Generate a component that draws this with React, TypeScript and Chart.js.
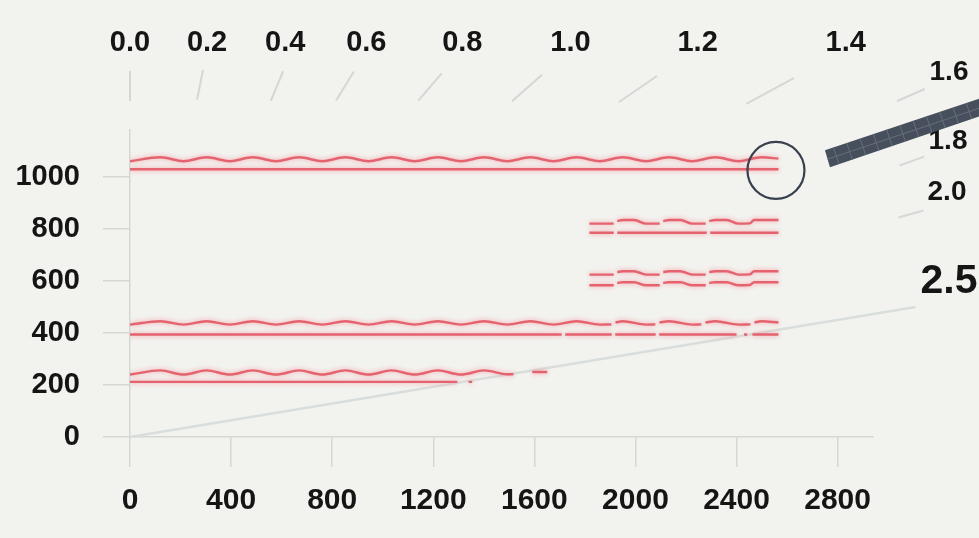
import React, { useEffect, useRef } from "react";
import { Chart, registerables } from "chart.js";

Chart.register(...registerables);

// ---------- data ----------
const xTickValues = [0, 400, 800, 1200, 1600, 2000, 2400, 2800];
const yTickValues = [0, 200, 400, 600, 800, 1000];
const topTickValues = [0, 305, 614, 935, 1315, 1743, 2246, 2832];
const topTickLabels = ["0.0", "0.2", "0.4", "0.6", "0.8", "1.0", "1.2", "1.4"];
const sideLabels = ["1.6", "1.8", "2.0", "2.5"];

type P = [number, number | null];

const wave1000: P[] = [[0,1060],[120,1075],[212,1060],[303,1075],[395,1060],[486,1075],[578,1060],[669,1075],[761,1060],[852,1075],[944,1060],[1035,1075],[1127,1060],[1218,1075],[1310,1060],[1401,1075],[1493,1060],[1584,1075],[1676,1060],[1767,1075],[1859,1060],[1950,1075],[2042,1060],[2133,1075],[2225,1060],[2316,1075],[2408,1060],[2499,1075],[2566,1070]];
const flat1000: P[] = [[0,1029],[2566,1029]];

const wave800: P[] = [[1818,820],[1914,820],[1921,null],[1928,830],[1950,834],[1995,834],[2042,820],[2096,820],[2103,null],[2110,830],[2133,834],[2178,834],[2225,820],[2278,820],[2285,null],[2292,830],[2316,834],[2361,834],[2408,820],[2452,821],[2470,834],[2566,834]];
const flat800: P[] = [[1818,785],[1914,785],[1921,null],[1928,785],[2282,785],[2289,null],[2296,785],[2566,785]];

const wave600a: P[] = [[1818,624],[1914,624],[1921,null],[1928,634],[1950,637],[1995,637],[2042,624],[2096,624],[2103,null],[2110,634],[2133,637],[2178,637],[2225,624],[2278,624],[2285,null],[2292,634],[2316,637],[2361,637],[2408,624],[2452,625],[2470,637],[2566,637]];
const wave600b: P[] = [[1818,583],[1914,583],[1921,null],[1928,592],[1950,595],[1995,595],[2042,583],[2096,583],[2103,null],[2110,592],[2133,595],[2178,595],[2225,583],[2278,583],[2285,null],[2292,592],[2316,595],[2361,595],[2408,583],[2452,584],[2470,595],[2566,595]];

const wave400: P[] = [[0,432],[120,445],[212,432],[303,445],[395,432],[486,445],[578,432],[669,445],[761,432],[852,445],[944,432],[1035,445],[1127,432],[1218,445],[1310,432],[1401,445],[1493,432],[1584,445],[1676,432],[1767,445],[1859,432],[1905,433],[1913,null],[1921,440],[1950,445],[2042,432],[2079,433],[2087,null],[2095,440],[2133,445],[2225,432],[2261,433],[2269,null],[2277,440],[2316,445],[2408,432],[2455,433],[2463,null],[2471,440],[2499,445],[2566,440]];
const flat400: P[] = [[0,394],[1708,394],[1715,null],[1722,394],[1906,394],[1913,null],[1920,394],[2080,394],[2087,null],[2094,394],[2400,394],[2410,null],[2430,394],[2442,394],[2452,null],[2463,394],[2566,394]];

const wave200: P[] = [[0,240],[120,256],[212,240],[303,256],[395,240],[486,256],[578,240],[669,256],[761,240],[852,256],[944,240],[1035,256],[1127,240],[1218,256],[1310,240],[1401,256],[1493,241],[1517,241],[1555,null],[1592,250],[1651,250]];
const flat200: P[] = [[0,212],[1295,212],[1320,null],[1340,212],[1354,212]];

const diagonal: P[] = [[0,0],[3109,500]];
const highlightPoint = { x: 2556, y: 1025 };

// ---------- layout / style ----------
const W = 979;
const H = 538;
const FONT = "'Liberation Sans', Arial, Helvetica, sans-serif";
const TEXT = "#151515";
const AXIS = "#d4d7d4";
const RED = "#e4636f";

const sideLabelPos = [
  { x: 949, y: 72, size: 28 },
  { x: 948, y: 141, size: 28 },
  { x: 947, y: 192, size: 28 },
  { x: 949, y: 282, size: 41 },
];
const rayMarkPos = [
  { x: 130, y: 86, len: 30 },
  { x: 200, y: 85, len: 30 },
  { x: 277, y: 86, len: 32 },
  { x: 345, y: 86, len: 34 },
  { x: 430, y: 87, len: 36 },
  { x: 527, y: 88, len: 40 },
  { x: 638, y: 89, len: 46 },
  { x: 770, y: 91, len: 54 },
  { x: 911, y: 95, len: 30 },
  { x: 912, y: 161, len: 26 },
  { x: 911, y: 214, len: 26 },
];

const toPoints = (arr: P[]) => arr.map(([x, y]) => ({ x, y }));

const redLine = (pts: P[]) => ({
  data: toPoints(pts),
  borderColor: RED,
  borderWidth: 2.4,
  pointRadius: 0,
  tension: 0.4,
  cubicInterpolationMode: "monotone" as const,
  spanGaps: false,
  fill: false,
  glow: true,
});

const bgPlugin = {
  id: "bg",
  beforeDraw(chart: any) {
    const { ctx } = chart;
    ctx.save();
    ctx.fillStyle = "#f2f3ef";
    ctx.fillRect(0, 0, chart.width, chart.height);
    ctx.restore();
  },
};

const glowPlugin = {
  id: "glow",
  beforeDatasetDraw(chart: any, args: any) {
    const ds = chart.data.datasets[args.index];
    if (ds.glow) {
      chart.ctx.save();
      chart.ctx.shadowColor = "rgba(245,150,160,0.95)";
      chart.ctx.shadowBlur = 5;
    }
  },
  afterDatasetDraw(chart: any, args: any) {
    const ds = chart.data.datasets[args.index];
    if (ds.glow) chart.ctx.restore();
  },
};

const decorPlugin = {
  id: "decor",
  afterDraw(chart: any) {
    const { ctx } = chart;
    const xs = chart.scales.x;
    const ys = chart.scales.y;
    const ox = xs.getPixelForValue(0);
    const oy = ys.getPixelForValue(0);
    ctx.save();

    // ray tick marks
    ctx.strokeStyle = "rgba(175,181,181,0.45)";
    ctx.lineWidth = 2;
    rayMarkPos.forEach((m) => {
      const dx = m.x - ox;
      const dy = m.y - oy;
      const d = Math.hypot(dx, dy);
      const ux = dx / d;
      const uy = dy / d;
      ctx.beginPath();
      ctx.moveTo(m.x - (ux * m.len) / 2, m.y - (uy * m.len) / 2);
      ctx.lineTo(m.x + (ux * m.len) / 2, m.y + (uy * m.len) / 2);
      ctx.stroke();
    });

    // side labels
    ctx.fillStyle = TEXT;
    ctx.textAlign = "center";
    ctx.textBaseline = "middle";
    sideLabels.forEach((t, i) => {
      const p = sideLabelPos[i];
      ctx.font = `bold ${p.size}px ${FONT}`;
      ctx.fillText(t, p.x, p.y);
    });

    // highlight circle
    const cx = xs.getPixelForValue(highlightPoint.x);
    const cy = ys.getPixelForValue(highlightPoint.y);
    ctx.strokeStyle = "#37404c";
    ctx.lineWidth = 2.2;
    ctx.beginPath();
    ctx.arc(cx, cy, 28.5, 0, Math.PI * 2);
    ctx.stroke();

    // pointer bar
    const poly = [
      [cx + 49, cy - 20],
      [cx + 240, cy - 84],
      [cx + 245, cy - 68],
      [cx + 54, cy - 3],
    ];
    ctx.beginPath();
    poly.forEach(([px, py], i) => (i ? ctx.lineTo(px, py) : ctx.moveTo(px, py)));
    ctx.closePath();
    ctx.fillStyle = "#474f5c";
    ctx.fill();
    ctx.save();
    ctx.clip();
    ctx.strokeStyle = "#656e7b";
    ctx.lineWidth = 1;
    const ang = Math.atan2(-64, 191);
    const ux = Math.cos(ang);
    const uy = Math.sin(ang);
    for (let k = 0; k < 16; k++) {
      const bx = cx + 51 + ux * (k * 14 + 10);
      const by = cy - 11 + uy * (k * 14 + 10);
      ctx.beginPath();
      ctx.moveTo(bx + uy * 12, by - ux * 12);
      ctx.lineTo(bx - uy * 12, by + ux * 12);
      ctx.stroke();
    }
    ctx.beginPath();
    ctx.moveTo(cx + 51, cy - 11);
    ctx.lineTo(cx + 51 + ux * 260, cy - 11 + uy * 260);
    ctx.stroke();
    ctx.restore();

    ctx.restore();
  },
};

export default function App() {
  const ref = useRef<HTMLCanvasElement | null>(null);

  useEffect(() => {
    if (!ref.current) return;
    const chart = new Chart(ref.current, {
      type: "line",
      data: {
        datasets: [
          redLine(wave1000),
          redLine(flat1000),
          redLine(wave800),
          redLine(flat800),
          redLine(wave600a),
          redLine(wave600b),
          redLine(wave400),
          redLine(flat400),
          redLine(wave200),
          redLine(flat200),
          {
            data: toPoints(diagonal),
            borderColor: "#d9dedc",
            borderWidth: 2.5,
            pointRadius: 0,
            tension: 0,
            fill: false,
            clip: false,
          } as any,
        ],
      },
      options: {
        responsive: false,
        animation: false,
        devicePixelRatio: 1,
        layout: { padding: { left: 0, right: 106, top: 0, bottom: 0 } },
        plugins: {
          legend: { display: false },
          tooltip: { enabled: false },
          title: { display: false },
        },
        scales: {
          x: {
            type: "linear",
            position: "bottom",
            min: 0,
            max: 2940,
            afterBuildTicks: (s: any) => {
              s.ticks = xTickValues.map((v) => ({ value: v }));
            },
            afterFit: (s: any) => {
              s.height = 101;
            },
            grid: { drawOnChartArea: false, drawTicks: true, tickLength: 30, color: AXIS, lineWidth: 1.5 },
            border: { display: true, color: AXIS, width: 1.5 },
            ticks: {
              color: TEXT,
              font: { family: FONT, size: 30, weight: "bold" },
              padding: 16,
              maxRotation: 0,
              autoSkip: false,
              callback: (v: any) => String(v),
            },
          },
          x2: {
            type: "linear",
            position: "top",
            min: 0,
            max: 2940,
            afterBuildTicks: (s: any) => {
              s.ticks = topTickValues.map((v) => ({ value: v }));
            },
            afterFit: (s: any) => {
              s.height = 130;
            },
            grid: { display: false },
            border: { display: false },
            ticks: {
              color: TEXT,
              font: { family: FONT, size: 29, weight: "bold" },
              padding: 62,
              maxRotation: 0,
              autoSkip: false,
              callback: (_v: any, i: number) => topTickLabels[i],
            },
          },
          y: {
            type: "linear",
            min: 0,
            max: 1180,
            afterBuildTicks: (s: any) => {
              s.ticks = yTickValues.map((v) => ({ value: v }));
            },
            afterFit: (s: any) => {
              s.width = 130;
            },
            grid: { drawOnChartArea: false, drawTicks: true, tickLength: 27, color: AXIS, lineWidth: 1.5 },
            border: { display: true, color: AXIS, width: 1.5 },
            ticks: {
              color: TEXT,
              font: { family: FONT, size: 29, weight: "bold" },
              padding: 23,
              autoSkip: false,
              callback: (v: any) => String(v),
            },
          },
        },
      } as any,
      plugins: [bgPlugin, glowPlugin, decorPlugin],
    });
    return () => chart.destroy();
  }, []);

  return (
    <div style={{ position: "absolute", left: 0, top: 0, width: W, height: H }}>
      <canvas ref={ref} width={W} height={H} style={{ display: "block", width: W, height: H }} />
    </div>
  );
}
